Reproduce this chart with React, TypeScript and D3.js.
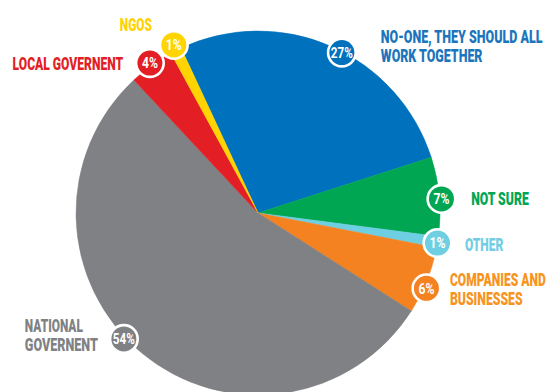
import React from "react";
import * as d3 from "d3";

// ---- data ----
const categories = [
  "No-one, they should all work together",
  "Not sure",
  "Other",
  "Companies and businesses",
  "National government",
  "Local government",
  "NGOs",
];
const values = [27, 7, 1, 6, 54, 4, 1];
const labelLines = [
  ["NO-ONE, THEY SHOULD ALL", "WORK TOGETHER"],
  ["NOT SURE"],
  ["OTHER"],
  ["COMPANIES AND", "BUSINESSES"],
  ["NATIONAL", "GOVERNENT"],
  ["LOCAL GOVERNENT"],
  ["NGOS"],
];

// ---- styles / layout ----
const sliceColors = ["#0071BC", "#00A651", "#6DCFE1", "#F58220", "#808184", "#E31E25", "#FFD400"];
const textColors = ["#1C75BC", "#00A651", "#72CDE4", "#F7941E", "#808184", "#E31E25", "#FFD200"];
// badge angle (deg clockwise from 12 o'clock) and distance from centre
const badgeAngle = [27.6, 85.6, 99.5, 114.1, 226.8, 324.2, 333.4];
const badgeDist = [181, 184, 182, 184.5, 184, 184.8, 188];
// text offset from badge centre: dx, first baseline dy, anchor, widths per line
const textLayout = [
  { dx: 39, dy: -9.8, anchor: "start", widths: [161.6, 101.6] },
  { dx: 29.7, dy: 6, anchor: "start", widths: [57.6] },
  { dx: 27.5, dy: 7.5, anchor: "start", widths: [38.3] },
  { dx: 23.5, dy: -2.8, anchor: "start", widths: [96, 72.7] },
  { dx: -99, dy: -7.3, anchor: "start", widths: [58, 73] },
  { dx: -26.7, dy: 7, anchor: "end", widths: [110.6] },
  { dx: -22, dy: -14, anchor: "end", widths: [32] },
];

const W = 547;
const H = 392;
const cx = 258;
const cy = 213;
const R = 182;
const startDeg = -25;
const lineGap = 19.5;

export default function App() {
  const toRad = (d: number) => (d * Math.PI) / 180;
  const pie = d3
    .pie<number>()
    .sort(null)
    .value((d) => d)
    .startAngle(toRad(startDeg))
    .endAngle(toRad(startDeg) + 2 * Math.PI);
  const arcs = pie(values);
  const arcGen = d3.arc<d3.PieArcDatum<number>>().innerRadius(0).outerRadius(R);

  const font = "Roboto, 'DejaVu Sans', sans-serif";

  return (
    <svg
      width={W}
      height={H}
      style={{ position: "fixed", left: 0, top: 0, background: "#fff" }}
    >
      <g transform={`translate(${cx},${cy})`}>
        {arcs.map((a, i) => (
          <path key={categories[i]} d={arcGen(a) || ""} fill={sliceColors[i]} stroke={sliceColors[i]} strokeWidth={0.5} />
        ))}
        {arcs.map((a, i) => {
          const ang = toRad(badgeAngle[i]);
          const bx = Math.sin(ang) * badgeDist[i];
          const by = -Math.cos(ang) * badgeDist[i];
          const tl = textLayout[i];
          const pct = `${values[i]}%`;
          return (
            <g key={"b" + i}>
              <circle cx={bx} cy={by} r={13.8} fill={sliceColors[i]} stroke="#fff" strokeWidth={2.6} />
              <text
                x={bx}
                y={by + 5.2}
                textAnchor="middle"
                fill="#fff"
                fontFamily={font}
                fontWeight={700}
                fontSize={15}
                textLength={pct.length === 2 ? 16 : 22}
                lengthAdjust="spacingAndGlyphs"
              >
                {pct}
              </text>
              {labelLines[i].map((ln, j) => (
                <text
                  key={j}
                  x={bx + tl.dx}
                  y={by + tl.dy + j * lineGap}
                  textAnchor={tl.anchor as any}
                  fill={textColors[i]}
                  fontFamily={font}
                  fontWeight={900}
                  fontSize={18.5}
                  textLength={tl.widths[j]}
                  lengthAdjust="spacingAndGlyphs"
                >
                  {ln}
                </text>
              ))}
            </g>
          );
        })}
      </g>
    </svg>
  );
}
